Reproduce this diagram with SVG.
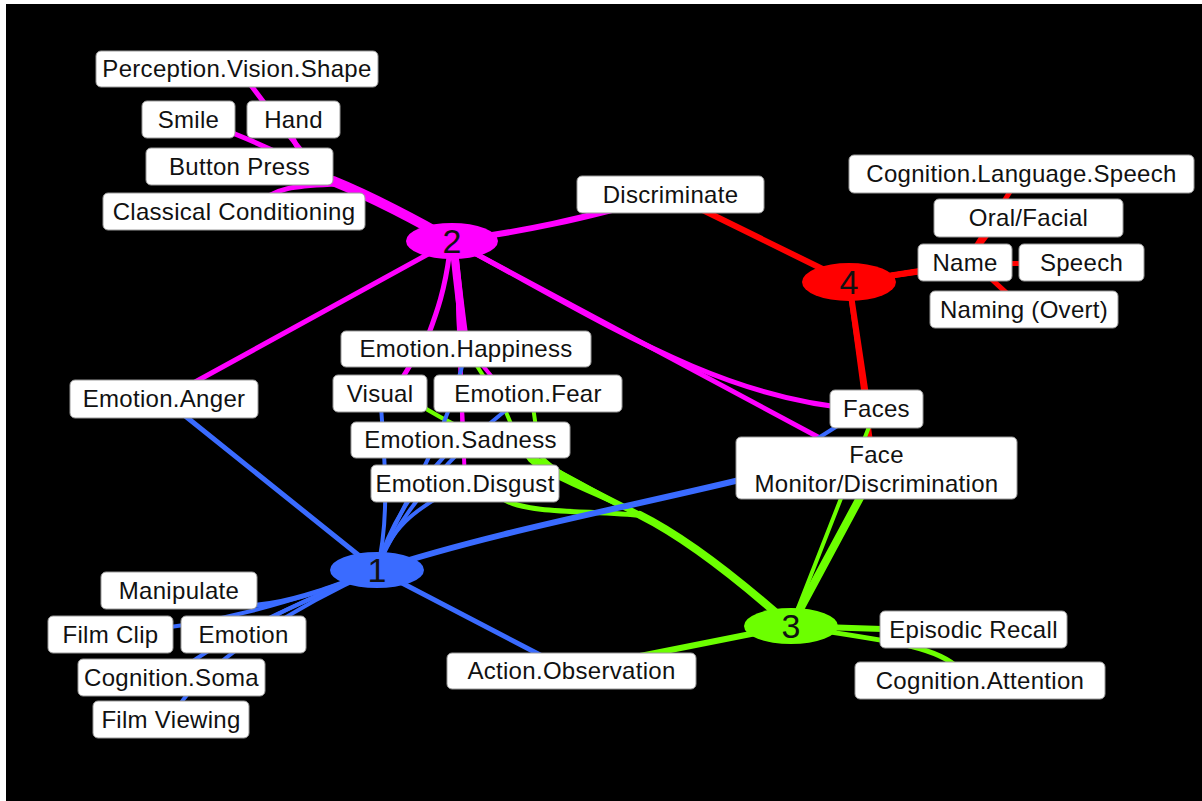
<svg xmlns="http://www.w3.org/2000/svg" width="1202" height="801" viewBox="0 0 1202 801">
<style>
.bx{fill:#fff;stroke:#999;stroke-width:1}
.t{font-family:"Liberation Sans",Arial,sans-serif;font-size:24px;letter-spacing:0.3px;fill:#111;text-anchor:middle}
.n{font-family:"Liberation Sans",Arial,sans-serif;font-size:34px;fill:#111;text-anchor:middle}
.e{fill:none;stroke-linecap:round;stroke-linejoin:round}
.m{stroke:#ff00ff}.b{stroke:#3a6bff}.g{stroke:#6cff00}.r{stroke:#ff0000}
</style>
<rect x="0" y="0" width="1202" height="801" fill="#fff"/>
<rect x="6" y="4" width="1196" height="797" fill="#000"/>
<g id="connectors">
<!-- node 2 magenta -->
<path class="e m" stroke-width="10" d="M452,241 C420,222 370,196 333,181"/>
<path class="e m" stroke-width="5" d="M335,181 C312,168 292,140 247,80"/>
<path class="e m" stroke-width="5" d="M335,181 C310,168 270,148 235,134 L200,124"/>
<path class="e m" stroke-width="5" d="M335,181 C312,168 296,152 290,130"/>
<path class="e m" stroke-width="6" d="M335,181 L240,166"/>
<path class="e m" stroke-width="5" d="M338,184 C300,186 275,186 258,205"/>
<path class="e m" stroke-width="6" d="M452,241 C520,232 580,220 670,194"/>
<path class="e m" stroke-width="5" d="M452,241 L164,399"/>
<path class="e m" stroke-width="5" d="M452,241 C600,320 720,400 860,409"/>
<path class="e m" stroke-width="5" d="M452,241 L876,468"/>
<path class="e m" stroke-width="5" d="M450,250 C445,290 437,312 428,336 L395,390"/>
<path class="e m" stroke-width="8" d="M454,250 C458,290 462,320 466,349"/>
<path class="e m" stroke-width="4" d="M456,250 L466,345 L505,393"/>
<path class="e m" stroke-width="4" d="M456,250 L463,440"/>
<path class="e m" stroke-width="4" d="M456,250 L465,483"/>
<!-- node 4 red -->
<path class="e r" stroke-width="6" d="M849,282 L670,194"/>
<path class="e r" stroke-width="6" d="M849,282 L965,264"/>
<path class="e r" stroke-width="5" d="M849,282 L965,264 L1081,263"/>
<path class="e r" stroke-width="5" d="M849,282 L965,264 L1000,218"/>
<path class="e r" stroke-width="5" d="M849,282 L965,264 L1021,174"/>
<path class="e r" stroke-width="5" d="M849,282 L975,264 L1024,309"/>
<path class="e r" stroke-width="6" d="M849,282 L868,409"/>
<path class="e r" stroke-width="5" d="M849,282 L874,468"/>
<!-- node 3 green -->
<path class="e g" stroke-width="8" d="M791,626 L876,468"/>
<path class="e g" stroke-width="4" d="M791,626 L876,409"/>
<path class="e g" stroke-width="6" d="M791,626 L973,632"/>
<path class="e g" stroke-width="5" d="M791,626 C880,640 935,645 958,668"/>
<path class="e g" stroke-width="6" d="M791,626 L610,662"/>
<path class="e g" stroke-width="8" d="M791,626 C745,585 690,540 640,515"/>
<path class="e g" stroke-width="6" d="M642,516 C600,495 560,475 520,450"/>
<path class="e g" stroke-width="4" d="M642,516 C600,495 552,472 540,455 L532,400"/>
<path class="e g" stroke-width="4" d="M642,516 C600,495 545,475 530,460 C518,445 512,425 505,410 L470,355"/>
<path class="e g" stroke-width="4" d="M642,516 C600,495 560,470 520,452 C480,438 440,420 405,395"/>
<path class="e g" stroke-width="5" d="M642,516 C600,510 530,515 505,500 L480,490"/>
<!-- node 1 blue -->
<path class="e b" stroke-width="5" d="M377,570 L164,399"/>
<path class="e b" stroke-width="6" d="M377,570 C500,530 640,505 760,475 L876,468"/>
<path class="e b" stroke-width="4" d="M377,570 C500,530 640,505 760,475 L850,418"/>
<path class="e b" stroke-width="5" d="M377,570 L571,671"/>
<path class="e b" stroke-width="4" d="M377,570 C390,520 385,460 380,393"/>
<path class="e b" stroke-width="4" d="M377,570 C390,530 410,510 465,483"/>
<path class="e b" stroke-width="4" d="M377,570 C390,520 420,480 460,440"/>
<path class="e b" stroke-width="4" d="M377,570 C395,510 445,450 466,349"/>
<path class="e b" stroke-width="4" d="M377,570 C395,520 450,450 528,393"/>
<path class="e b" stroke-width="5" d="M377,570 C310,595 240,625 179,590"/>
<path class="e b" stroke-width="4" d="M377,570 C300,600 220,625 110,634"/>
<path class="e b" stroke-width="4" d="M377,570 C330,590 280,610 243,634"/>
<path class="e b" stroke-width="4" d="M377,570 C320,595 230,630 171,677"/>
<path class="e b" stroke-width="4" d="M377,570 C310,600 200,660 171,719"/>
</g>
<g id="n2"><ellipse cx="452" cy="241" rx="46" ry="18" fill="#ff00ff"/><text class="n" x="452" y="253">2</text></g>
<g id="n4"><ellipse cx="849" cy="282" rx="47" ry="19" fill="#ff0000"/><text class="n" x="849" y="294">4</text></g>
<g id="n3"><ellipse cx="791" cy="626" rx="47" ry="18" fill="#6cff00"/><text class="n" x="791" y="638">3</text></g>
<g id="n1"><ellipse cx="377" cy="570" rx="47" ry="18" fill="#3a6bff"/><text class="n" x="377" y="582">1</text></g>
<g id="pvs"><rect class="bx" x="96" y="51" width="282" height="36" rx="5"/><text class="t" x="237" y="77">Perception.Vision.Shape</text></g>
<g id="smile"><rect class="bx" x="142" y="101" width="93" height="37" rx="5"/><text class="t" x="188.5" y="128">Smile</text></g>
<g id="hand"><rect class="bx" x="247" y="101" width="93" height="37" rx="5"/><text class="t" x="293.5" y="128">Hand</text></g>
<g id="buttonpress"><rect class="bx" x="146" y="148" width="187" height="37" rx="5"/><text class="t" x="239.5" y="175">Button Press</text></g>
<g id="classical"><rect class="bx" x="103" y="193" width="262" height="37" rx="5"/><text class="t" x="234" y="220">Classical Conditioning</text></g>
<g id="discriminate"><rect class="bx" x="577" y="176" width="187" height="37" rx="5"/><text class="t" x="670.5" y="203">Discriminate</text></g>
<g id="happiness"><rect class="bx" x="341" y="331" width="250" height="36" rx="5"/><text class="t" x="466" y="357">Emotion.Happiness</text></g>
<g id="visual"><rect class="bx" x="333" y="375" width="94" height="37" rx="5"/><text class="t" x="380" y="402">Visual</text></g>
<g id="fear"><rect class="bx" x="434" y="375" width="188" height="37" rx="5"/><text class="t" x="528" y="402">Emotion.Fear</text></g>
<g id="sadness"><rect class="bx" x="351" y="422" width="219" height="36" rx="5"/><text class="t" x="460.5" y="448">Emotion.Sadness</text></g>
<g id="disgust"><rect class="bx" x="371" y="465" width="188" height="37" rx="5"/><text class="t" x="465" y="492">Emotion.Disgust</text></g>
<g id="anger"><rect class="bx" x="70" y="380" width="188" height="38" rx="5"/><text class="t" x="164" y="407">Emotion.Anger</text></g>
<g id="cls"><rect class="bx" x="849" y="155" width="345" height="38" rx="5"/><text class="t" x="1021.5" y="182">Cognition.Language.Speech</text></g>
<g id="oralfacial"><rect class="bx" x="934" y="199" width="189" height="38" rx="5"/><text class="t" x="1028.5" y="226">Oral/Facial</text></g>
<g id="name"><rect class="bx" x="918" y="244" width="94" height="37" rx="5"/><text class="t" x="965" y="271">Name</text></g>
<g id="speech"><rect class="bx" x="1019" y="244" width="125" height="37" rx="5"/><text class="t" x="1081.5" y="271">Speech</text></g>
<g id="naming"><rect class="bx" x="930" y="291" width="188" height="37" rx="5"/><text class="t" x="1024" y="318">Naming (Overt)</text></g>
<g id="faces"><rect class="bx" x="830" y="390" width="93" height="38" rx="5"/><text class="t" x="876.5" y="417">Faces</text></g>
<g id="facemon"><rect class="bx" x="736" y="437" width="281" height="62" rx="5"/><text class="t" x="876.5" y="463">Face</text><text class="t" x="876.5" y="492">Monitor/Discrimination</text></g>
<g id="episodic"><rect class="bx" x="880" y="611" width="187" height="37" rx="5"/><text class="t" x="973.5" y="638">Episodic Recall</text></g>
<g id="attention"><rect class="bx" x="855" y="662" width="250" height="37" rx="5"/><text class="t" x="980" y="689">Cognition.Attention</text></g>
<g id="actionobs"><rect class="bx" x="447" y="653" width="249" height="36" rx="5"/><text class="t" x="571.5" y="679">Action.Observation</text></g>
<g id="manipulate"><rect class="bx" x="101" y="572" width="156" height="37" rx="5"/><text class="t" x="179" y="599">Manipulate</text></g>
<g id="filmclip"><rect class="bx" x="48" y="616" width="125" height="37" rx="5"/><text class="t" x="110.5" y="643">Film Clip</text></g>
<g id="emotion"><rect class="bx" x="181" y="616" width="125" height="37" rx="5"/><text class="t" x="243.5" y="643">Emotion</text></g>
<g id="soma"><rect class="bx" x="78" y="659" width="187" height="37" rx="5"/><text class="t" x="171.5" y="686">Cognition.Soma</text></g>
<g id="filmviewing"><rect class="bx" x="93" y="701" width="156" height="37" rx="5"/><text class="t" x="171" y="728">Film Viewing</text></g>
</svg>
